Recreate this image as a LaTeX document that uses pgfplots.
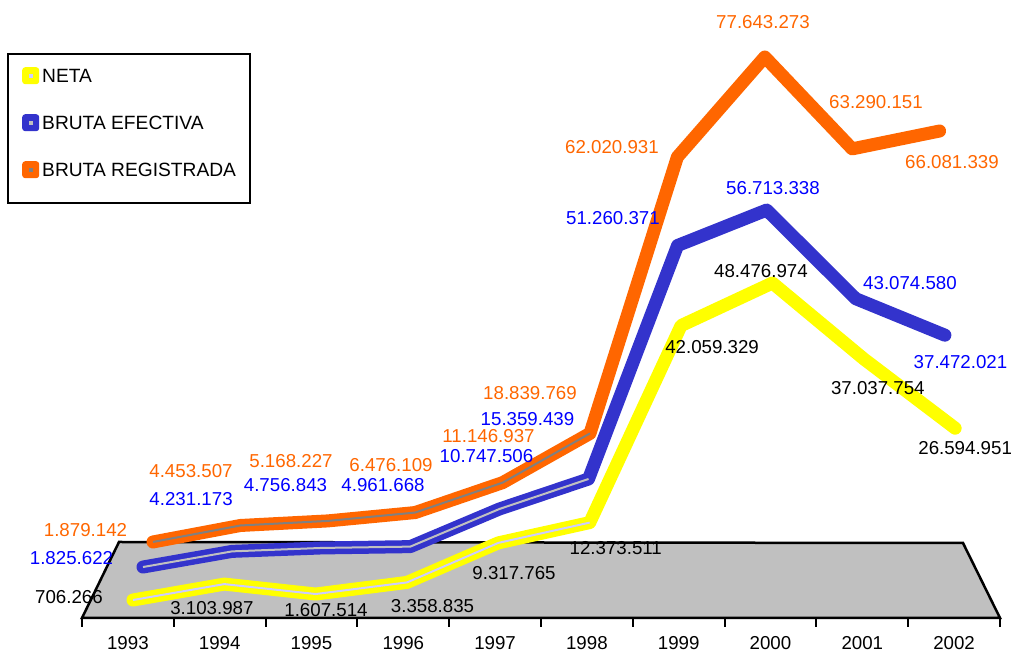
\documentclass[border=0pt]{standalone}
\usepackage{fontspec}
\setmainfont{Liberation Sans}
\usepackage{pgfplots}
\usepackage{pgfplotstable}
\pgfplotsset{compat=1.18}

\definecolor{neta}{HTML}{FFFF00}
\definecolor{netastripe}{HTML}{CCCCFF}
\definecolor{efec}{HTML}{3333CC}
\definecolor{efecstripe}{HTML}{C0C0C0}
\definecolor{regis}{HTML}{FF6600}
\definecolor{regisstripe}{HTML}{808080}
\definecolor{bluetext}{HTML}{0000FF}
\definecolor{floorgray}{HTML}{C0C0C0}

% year, value, label offset (pt), label text
\pgfplotstableread{
year value lx ly lab
1993 706266 -64 3 706.266
1994 3103987 -12.4 -24 3.103.987
1995 1607514 10.3 -16 1.607.514
1996 3358835 25.5 -23.6 3.358.835
1997 9317765 15.6 -30 9.317.765
1998 12373511 26 -25.4 12.373.511
1999 42059329 31 -21.4 42.059.329
2000 48476974 -11.5 12 48.476.974
2001 37037754 14 -29.6 37.037.754
2002 26594951 10 -19.8 26.594.951
}\neta

\pgfplotstableread{
year value lx ly lab
1993 1825622 -71.5 9 1.825.622
1994 4231173 -41 52.4 4.231.173
1995 4756843 -35.7 63 4.756.843
1996 4961668 -27.3 61.1 4.961.668
1997 10747506 -12.9 53 10.747.506
1998 15359439 -61 60 15.359.439
1999 51260371 -64.6 27.5 51.260.371
2000 56713338 6.3 22 56.713.338
2001 43074580 54.2 15.7 43.074.580
2002 37472021 15.6 -26.8 37.472.021
}\efectiva

\pgfplotstableread{
year value lx ly lab
1993 1879142 -67.5 12 1.879.142
1994 4453507 -49.4 54 4.453.507
1995 5168227 -36.8 59.4 5.168.227
1996 6476109 -24.2 47.5 6.476.109
1997 11146937 -14.1 46.6 11.146.937
1998 18839769 -60 39.9 18.839.769
1999 62020931 -65.4 10 62.020.931
2000 77643273 -1.8 34.5 77.643.273
2001 63290151 23.8 46.4 63.290.151
2002 66081339 12.4 -31.5 66.081.339
}\registrada

\newcommand{\lblfont}{\fontsize{18.7}{22}\selectfont}
\newcommand{\swatch}[2]{%
  \pgfsetlinewidth{0pt}%
  \path[fill=#1, draw=none, rounded corners=3pt] (0pt,-8.5pt) rectangle (17pt,8.5pt);
  \path[fill=#2, draw=none] (6.5pt,-2pt) rectangle (10.5pt,2pt);}

\pgfplotsset{
  % pseudo-3D placement of each ribbon (depth rows)
  row neta/.style={x filter/.expression={133+91.35*(x-1993)}, y filter/.expression={48.3+6.636e-6*y}},
  row efec/.style={x filter/.expression={143+89.1*(x-1993)}, y filter/.expression={74.1+6.504e-6*y}},
  row regis/.style={x filter/.expression={153+87.4*(x-1993)}, y filter/.expression={99.0+6.401e-6*y}},
  ribbon/.style={line width=13pt, line join=round, line cap=round, no marks,
    point meta=explicit symbolic,
    nodes near coords,
    visualization depends on={\thisrow{lx}\as\lx},
    visualization depends on={\thisrow{ly}\as\ly},
    every node near coord/.append style={anchor=center, font=\lblfont, xshift=\lx pt, yshift=\ly pt}},
  stripe/.style={line width=2pt, no marks, forget plot, skip coords between index={6}{10}},
}

\begin{document}
\begin{tikzpicture}
\begin{axis}[
  x=1pt, y=1pt,
  xmin=82, xmax=1000, ymin=35, ymax=653,
  axis x line=bottom, axis y line=none,
  x axis line style={-, line width=2.5pt},
  xtick={82,173.8,265.6,357.4,449.2,541,632.8,724.6,816.4,908.2,1000},
  x tick label as interval,
  xticklabels={1993,1994,1995,1996,1997,1998,1999,2000,2001,2002},
  tick align=outside,
  major tick length=9pt,
  x tick style={line width=2pt, black},
  xticklabel style={font=\lblfont, text height=13.4pt, text depth=0pt, inner sep=0pt, anchor=north, yshift=-9pt},
  clip=false,
  reverse legend,
  legend cell align=left,
  legend style={draw=none, fill=none, inner sep=0pt,
    at={(axis description cs:-0.06536,0.89159)}, anchor=north west,
    row sep=30pt, column sep=3pt,
    nodes={inner sep=0pt, text height=13.4pt, text depth=0pt, font=\fontsize{19.2}{22}\selectfont}},
]
% floor and legend frame
\addplot[fill=floorgray, draw=black, line width=2.5pt, forget plot] coordinates {(119,111) (963,110) (1000,35) (82,35)} -- cycle;
\draw[black, line width=2pt, fill=white] (axis cs:8,599) rectangle (axis cs:250,450);
\coordinate (ll) at (axis cs:0,0);
\coordinate (ur) at (axis cs:1013,653);

\addplot[regis, ribbon, row regis,
  every node near coord/.append style={text=regis},
  legend image code/.code={\swatch{regis}{regisstripe}}]
  table[x=year, y=value, meta=lab] {\registrada};
\addlegendentry{BRUTA REGISTRADA}
\addplot[regisstripe, row regis, stripe] table[x=year, y=value] {\registrada};

\addplot[efec, ribbon, row efec,
  every node near coord/.append style={text=bluetext},
  legend image code/.code={\swatch{efec}{efecstripe}}]
  table[x=year, y=value, meta=lab] {\efectiva};
\addlegendentry{BRUTA EFECTIVA}
\addplot[efecstripe, row efec, stripe] table[x=year, y=value] {\efectiva};

\addplot[neta, ribbon, row neta,
  every node near coord/.append style={text=black},
  legend image code/.code={\swatch{neta}{netastripe}}]
  table[x=year, y=value, meta=lab] {\neta};
\addlegendentry{NETA}
\addplot[netastripe, row neta, stripe] table[x=year, y=value] {\neta};
\end{axis}
\pgfresetboundingbox
\path[use as bounding box] (ll) rectangle (ur);
\end{tikzpicture}
\end{document}
